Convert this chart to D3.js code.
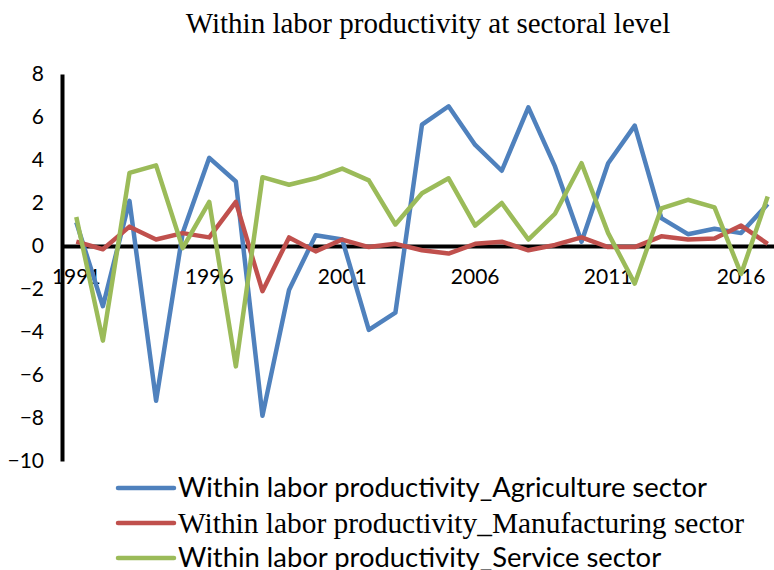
<!DOCTYPE html>
<html>
<head>
<meta charset="utf-8">
<script src="https://cdn.jsdelivr.net/npm/d3@7"></script>
<style>
  body { margin: 0; background: #fff; }
  svg { display: block; }
</style>
</head>
<body>
<div id="chart"></div>
<script>
// data
var years = d3.range(1991, 2018).map(String);
var yTicks = [-10, -8, -6, -4, -2, 0, 2, 4, 6, 8];
var xTickLabels = ["1991", "1996", "2001", "2006", "2011", "2016"];

var agriculture = [1.1, -2.8, 2.1, -7.2, 0.6, 4.1, 3.0, -7.9, -2.05, 0.5, 0.3, -3.9, -3.1, 5.65, 6.5,
  4.7, 3.5, 6.45, 3.7, 0.2, 3.85, 5.6, 1.3, 0.55, 0.8, 0.6, 1.95];
var manufacturing = [0.2, -0.15, 0.9, 0.3, 0.6, 0.4, 2.05, -2.1, 0.4, -0.25, 0.3, -0.05, 0.1, -0.2, -0.35,
  0.1, 0.2, -0.2, 0.05, 0.4, -0.05, -0.05, 0.45, 0.3, 0.35, 0.95, 0.1];
var service = [1.35, -4.4, 3.4, 3.75, -0.1, 2.05, -5.6, 3.2, 2.85, 3.15, 3.6, 3.05, 1.0, 2.45, 3.15,
  0.95, 2.0, 0.3, 1.5, 3.85, 0.6, -1.75, 1.75, 2.15, 1.8, -1.3, 2.3];

var seriesNames = ["Within labor productivity_Agriculture sector",
  "Within labor productivity_Manufacturing sector",
  "Within labor productivity_Service sector"];
var seriesColors = ["#4F81BD", "#C0504D", "#9BBB59"];
var seriesFonts = ["Lato, sans-serif", "'Liberation Serif', serif", "Lato, sans-serif"];

var width = 774, height = 570;

var svg = d3.select("#chart").append("svg")
  .attr("width", width)
  .attr("height", height);

var x = d3.scaleBand()
  .domain(years)
  .range([63, 781]);

var y = d3.scaleLinear()
  .domain([-10, 8])
  .range([461, 74]);

function cx(i) { return x(years[i]) + x.bandwidth() / 2; }

// title
svg.append("text")
  .attr("x", 428)
  .attr("y", 33)
  .attr("text-anchor", "middle")
  .style("font-family", "'Liberation Serif', serif")
  .style("font-size", "29px")
  .text("Within labor productivity at sectoral level");

// y axis
var yAxis = svg.append("g")
  .attr("transform", "translate(62,0)")
  .call(d3.axisLeft(y).tickValues(yTicks).tickSize(0).tickPadding(18).tickFormat(d3.format("d")));
yAxis.select(".domain").attr("stroke", "#000").attr("stroke-width", 4);
yAxis.selectAll("text")
  .style("font-family", "Lato, sans-serif")
  .style("font-size", "21px")
  .attr("fill", "#000");

// x axis sits on zero
var xAxis = svg.append("g")
  .attr("transform", "translate(0," + y(0) + ")")
  .call(d3.axisBottom(x).tickValues(xTickLabels).tickSize(0).tickPadding(23));
xAxis.select(".domain").attr("stroke", "#000").attr("stroke-width", 4);
xAxis.selectAll("text")
  .style("font-family", "Lato, sans-serif")
  .style("font-size", "21px")
  .attr("fill", "#000");

// lines
var line = d3.line()
  .x(function (d, i) { return cx(i); })
  .y(function (d) { return y(d); });

[agriculture, manufacturing, service].forEach(function (s, k) {
  svg.append("path")
    .datum(s)
    .attr("fill", "none")
    .attr("stroke", seriesColors[k])
    .attr("stroke-width", 4.5)
    .attr("stroke-linejoin", "round")
    .attr("d", line);
});

// legend
var legendY = [488, 523, 558];
var legend = svg.selectAll(".legend")
  .data(seriesNames)
  .enter().append("g")
  .attr("class", "legend")
  .attr("transform", function (d, i) { return "translate(0," + legendY[i] + ")"; });

legend.append("line")
  .attr("x1", 118)
  .attr("x2", 174)
  .attr("stroke", function (d, i) { return seriesColors[i]; })
  .attr("stroke-width", 4.5)
  .attr("stroke-linecap", "round");

legend.append("text")
  .attr("x", 178)
  .attr("y", function (d, i) { return i === 1 ? 10 : 9; })
  .style("font-family", function (d, i) { return seriesFonts[i]; })
  .style("font-size", function (d, i) { return i === 1 ? "29.4px" : "27.4px"; })
  .text(function (d) { return d; });
</script>
</body>
</html>
